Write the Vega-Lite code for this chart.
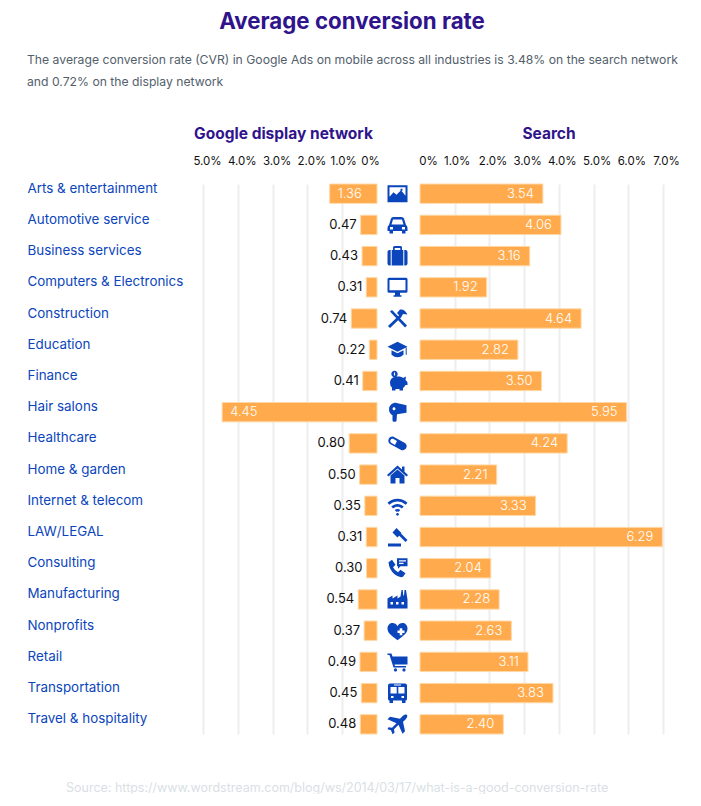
{"$schema":"https://vega.github.io/schema/vega-lite/v6.json","padding":{"left":27,"top":10,"right":0,"bottom":0},"background":"white","config":{"view":{"stroke":null},"font":"Inter","concat":{"spacing":0}},
"datasets":{"rows":[
{"industry":"Arts & entertainment","display":1.36,"search":3.54,"searchLabel":3.54},
{"industry":"Automotive service","display":0.47,"search":4.06,"searchLabel":4.06},
{"industry":"Business services","display":0.43,"search":3.16,"searchLabel":3.16},
{"industry":"Computers & Electronics","display":0.31,"search":1.92,"searchLabel":1.92},
{"industry":"Construction","display":0.74,"search":4.64,"searchLabel":4.64},
{"industry":"Education","display":0.22,"search":2.82,"searchLabel":2.82},
{"industry":"Finance","display":0.41,"search":3.50,"searchLabel":3.50},
{"industry":"Hair salons","display":4.45,"search":5.95,"searchLabel":5.95},
{"industry":"Healthcare","display":0.80,"search":4.24,"searchLabel":4.24},
{"industry":"Home & garden","display":0.50,"search":2.21,"searchLabel":2.21},
{"industry":"Internet & telecom","display":0.35,"search":3.33,"searchLabel":3.33},
{"industry":"LAW/LEGAL","display":0.31,"search":6.98,"searchLabel":6.29},
{"industry":"Consulting","display":0.30,"search":2.04,"searchLabel":2.04},
{"industry":"Manufacturing","display":0.54,"search":2.28,"searchLabel":2.28},
{"industry":"Nonprofits","display":0.37,"search":2.63,"searchLabel":2.63},
{"industry":"Retail","display":0.49,"search":3.11,"searchLabel":3.11},
{"industry":"Transportation","display":0.45,"search":3.83,"searchLabel":3.83},
{"industry":"Travel & hospitality","display":0.48,"search":2.40,"searchLabel":2.40}]},
"title":{"text":"Source: https://www.wordstream.com/blog/ws/2014/03/17/what-is-a-good-conversion-rate","orient":"bottom","anchor":"start","frame":"group","dx":-137,"offset":47,"fontSize":12.5,"fontWeight":400,"color":"#d9dfe5"},
"vconcat":[{
"title":{"text":"Average conversion rate","anchor":"middle","frame":"group","fontSize":22.3,"fontWeight":700,"color":"#2f148c","offset":21,"dx":149},
"vconcat":[{
"title":{"text":["The average conversion rate (CVR) in Google Ads on mobile across all industries is 3.48% on the search network","and 0.72% on the display network"],"anchor":"start","frame":"group","dx":-176,"fontSize":12.2,"fontWeight":400,"color":"#53606b","lineHeight":22,"offset":38},
"hconcat":[
{"width":174,"height":550,"data":{"name":"rows"},
"encoding":{"y":{"field":"industry","type":"nominal","sort":null,"scale":{"paddingInner":0.38,"paddingOuter":0},
"axis":{"title":null,"domain":false,"ticks":false,"labelAlign":"left","labelPadding":176,"labelLimit":200,"labelFontSize":13.4,"labelColor":"#0b45bc","labelOffset":-5}}},
"layer":[
{"mark":{"type":"bar","color":"#ffab4d","stroke":"#ffd8a6","strokeWidth":1},
"encoding":{"x":{"field":"display","type":"quantitative","scale":{"domain":[0,5],"reverse":true,"nice":false},
"axis":{"orient":"top","title":"Google display network","titleFontSize":15.5,"titleFontWeight":700,"titleColor":"#2f148c","titlePadding":14,"titleX":80,"values":[0,1,2,3,4,5],"tickCount":10,"labelExpr":"datum.value==0?'0%':format(datum.value,'.1f')+'%'","labelOverlap":false,"labelFlush":false,"labelFontSize":11.5,"labelColor":"#111111","labelPadding":18,"domain":false,"ticks":false,"grid":true,"gridColor":{"condition":{"test":"datum.value==0","value":"transparent"},"value":"#eeeeee"},"gridWidth":2,"labelOffset":{"condition":[{"test":"datum.value==0","value":-7},{"test":"datum.value==1","value":1}],"value":4}}}}},
{"transform":[{"filter":"datum.display>1"}],"mark":{"type":"text","align":"left","dx":8,"color":"white","fontSize":13,"fontWeight":300},"encoding":{"x":{"field":"display","type":"quantitative"},"text":{"field":"display","format":".2f"}}},
{"transform":[{"filter":"datum.display<=1"}],"mark":{"type":"text","align":"right","dx":-4,"color":"#111111","fontSize":13},"encoding":{"x":{"field":"display","type":"quantitative"},"text":{"field":"display","format":".2f"}}}
]},
{"width":38,"height":550,"data":{"name":"rows"},"mark":{"type":"point","filled":true,"opacity":1,"size":400,"color":"#0b45bc","xOffset":-1.5},
"encoding":{"y":{"field":"industry","type":"nominal","sort":null,"scale":{"type":"band","paddingInner":0.38,"paddingOuter":0},"axis":null},
"shape":{"field":"industry","type":"nominal","legend":null,"scale":{"domain":["Arts & entertainment","Automotive service","Business services","Computers & Electronics","Construction","Education","Finance","Hair salons","Healthcare","Home & garden","Internet & telecom","LAW/LEGAL","Consulting","Manufacturing","Nonprofits","Retail","Transportation","Travel & hospitality"],
"range":[
"M-1 -.85H1V.85H-1ZM-.8 -.65V.3L-.4 -.15L-.1 .1L.35 -.35L.8 .2V-.65ZM.3 -.5H.5V-.3H.3Z",
"M-.85 0L-.65 -.65Q-.6 -.8 -.4 -.8H.4Q.6 -.8 .65 -.65L.85 0Q1 .1 1 .3V.6H.8V.85H.45V.6H-.45V.85H-.8V.6H-1V.3Q-1 .1 -.85 0ZM-.6 -.05H.6L.45 -.55H-.45ZM-.75 .2V.45H-.45V.2ZM.45 .2V.45H.75V.2Z",
"M-1 -.4Q-1 -.6 -.8 -.6H-.45V-.85Q-.45 -1 -.3 -1H.3Q.45 -1 .45 -.85V-.6H.8Q1 -.6 1 -.4V.75Q1 .95 .8 .95H-.8Q-1 .95 -1 .75ZM-.28 -.6H.28V-.82H-.28ZM-.68 -.6V.95H-.58V-.6ZM.58 -.6V.95H.68V-.6Z",
"M-1 -.8Q-1 -.95 -.85 -.95H.85Q1 -.95 1 -.8V.4Q1 .55 .85 .55H.25V.8H.4V.95H-.4V.8H-.25V.55H-.85Q-1 .55 -1 .4ZM-.8 -.72V.3H.8V-.72Z",
"M-.95 .75L.2 -.35L.4 -.15L-.75 .95ZM-.75 -.7L-.55 -.85L.95 .7L.75 .9ZM-.05 -.55L.25 -.9Q.7 -1 1 -.4L.55 -.45L.35 -.1Z",
"M0 -.8L1 -.3L0 .2L-1 -.3ZM-.6 .05L0 .35L.6 .05V.5Q0 1 -.6 .5ZM.82 -.2H.92V.5H.82Z",
"M-.75 .2C-.75 -.35 -.3 -.45 .1 -.45C.3 -.45 .45 -.4 .55 -.3L.85 -.45L.8 -.1Q.95 0 1 .15V.4H.8Q.7 .6 .55 .7V.95H.2V.8H-.2V.95H-.55V.65Q-.75 .5 -.75 .2ZM-.62 -.7A.32 .32 0 1 1 .02 -.7A.32 .32 0 1 1 -.62 -.7ZM-.36 -.85V-.55H-.24V-.85Z",
"M-.85 -.3C-.85 -.7 -.5 -.95 -.2 -.95L.9 -.7V.05L-.05 .2L-.1 .85Q-.1 .95 -.25 .95H-.35Q-.5 .95 -.5 .8V.3Q-.85 .1 -.85 -.3ZM-.5 -.35A.15 .15 0 1 0 -.2 -.35A.15 .15 0 1 0 -.5 -.35Z",
"M-.36 -.65L.74 -.05A.4 .4 0 0 1 .36 .65L-.74 .05A.4 .4 0 0 1 -.36 -.65ZM-.4 -.45A.22 .22 0 0 0 -.6 -.05L-.25 .15L-.05 -.25Z",
"M0 -.9L.45 -.5V-.8H.7V-.28L1.05 .05L.9 .2L0 -.6L-.9 .2L-1.05 .05ZM-.7 .1L0 -.5L.7 .1V.9H.2V.35H-.2V.9H-.7Z",
"M-1 -.3C-.45 -.85 .45 -.85 1 -.3L.82 -.1C.35 -.55 -.35 -.55 -.82 -.1ZM-.62 .08C-.25 -.28 .25 -.28 .62 .08L.44 .27C.17 .02 -.17 .02 -.44 .27ZM-.28 .43Q0 .2 .28 .43L.12 .6Q0 .52 -.12 .6ZM-.14 .85A.14 .14 0 1 1 .14 .85A.14 .14 0 1 1 -.14 .85Z",
"M-.95 .65H.35V.95H-.95ZM-.5 -.45L-.1 -.9L.4 -.4L0 .05ZM0 -.3L.2 -.5L1 .3L.8 .5Z",
"M-.9 -.6L-.55 -.85L-.2 -.35L-.45 -.1Q-.3 .2 .05 .4L.3 .15L.8 .5L.55 .85Q.2 1 -.3 .6Q-.85 .1 -.9 -.6ZM-.05 -1H1V-.2H.3L.05 .05V-.2H-.05ZM.15 -.8V-.68H.85V-.8ZM.15 -.55V-.43H.6V-.55Z",
"M-1 .9V-.1L-.5 -.4V-.1L0 -.4V-.1L.3 -.3L.4 -.95H.52L.58 -.4H.65L.7 -.95H.85L1 0V.9ZM-.7 .25V.5H-.45V.25ZM-.15 .25V.5H.1V.25ZM.4 .25V.5H.65V.25Z",
"M0 -.45C.25 -.95 1 -.85 1 -.2C1 .3 .4 .6 0 .95C-.4 .6 -1 .3 -1 -.2C-1 -.85 -.25 -.95 0 -.45ZM.22 -.25V-.03H0V.23H.22V.45H.48V.23H.7V-.03H.48V-.25Z",
"M-1 -.85H-.6L-.5 -.55H1V.25H-.3L-.25 .4H.85V.55H-.4L-.8 -.7H-1ZM-.36 .8A.16 .16 0 1 1 -.04 .8A.16 .16 0 1 1 -.36 .8ZM.49 .8A.16 .16 0 1 1 .81 .8A.16 .16 0 1 1 .49 .8Z",
"M-.75 -.95H.75Q.95 -.95 .95 -.75V.6Q.95 .75 .8 .75V.98H.45V.75H-.45V.98H-.8V.75Q-.95 .75 -.95 .6V-.75Q-.95 -.95 -.75 -.95ZM-.7 -.6V.05H-.08V-.6ZM.08 -.6V.05H.7V-.6ZM-.65 .3V.5H-.4V.3ZM.4 .3V.5H.65V.3ZM-.35 -.85V-.75H.35V-.85Z",
"M.95 -.95Q1.1 -.7 .55 -.25L.75 .7L.5 .95L.1 .05L-.35 .5L-.3 .85L-.5 1L-.65 .6L-1 .5L-.9 .3L-.55 .35L-.1 -.1L-1 -.5L-.75 -.75L.25 -.55Q.7 -1.1 .95 -.95Z"
]}}}},
{"width":243,"height":550,"data":{"name":"rows"},
"encoding":{"y":{"field":"industry","type":"nominal","sort":null,"scale":{"paddingInner":0.38,"paddingOuter":0},"axis":null}},
"layer":[
{"mark":{"type":"bar","color":"#ffab4d","stroke":"#ffd8a6","strokeWidth":1},
"encoding":{"x":{"field":"search","type":"quantitative","scale":{"domain":[0,7],"nice":false},
"axis":{"orient":"top","title":"Search","titleFontSize":15.5,"titleFontWeight":700,"titleColor":"#2f148c","titlePadding":14,"titleX":128.5,"values":[0,1,2,3,4,5,6,7],"tickCount":10,"labelExpr":"datum.value==0?'0%':format(datum.value,'.1f')+'%'","labelOverlap":false,"labelFlush":false,"labelFontSize":11.5,"labelColor":"#111111","labelPadding":18,"domain":false,"ticks":false,"grid":true,"gridColor":{"condition":{"test":"datum.value==0","value":"transparent"},"value":"#eeeeee"},"gridWidth":2,"labelOffset":{"condition":[{"test":"datum.value==0","value":8},{"test":"datum.value==1","value":2}],"value":3}}}}},
{"mark":{"type":"text","align":"right","dx":-9,"color":"white","fontSize":13,"fontWeight":300},"encoding":{"x":{"field":"search","type":"quantitative"},"text":{"field":"searchLabel","format":".2f"}}}
]}
]}]}]}
